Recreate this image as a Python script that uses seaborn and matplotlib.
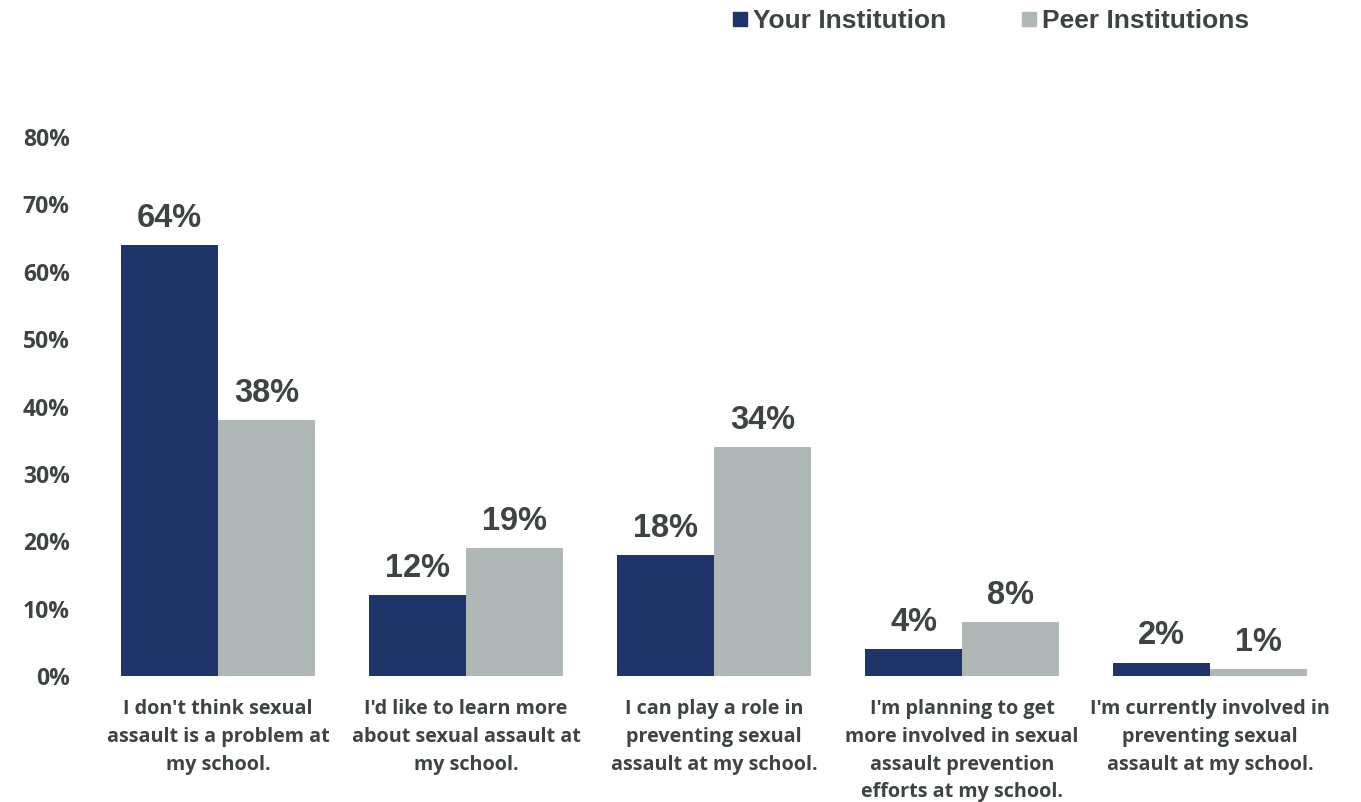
import matplotlib
matplotlib.use("Agg")
import matplotlib.pyplot as plt
import seaborn as sns
import pandas as pd
from matplotlib.lines import Line2D

categories = [
    "I don't think sexual\nassault is a problem at\nmy school.",
    "I'd like to learn more\nabout sexual assault at\nmy school.",
    "I can play a role in\npreventing sexual\nassault at my school.",
    "I'm planning to get\nmore involved in sexual\nassault prevention\nefforts at my school.",
    "I'm currently involved in\npreventing sexual\nassault at my school.",
]
series_names = ["Your Institution", "Peer Institutions"]
your_inst = [64, 12, 18, 4, 2]
peer_inst = [38, 19, 34, 8, 1]
y_ticks = [0, 10, 20, 30, 40, 50, 60, 70, 80]

colors = ["#1F3569", "#AFB8B7"]
text_color = "#3D4443"

df = pd.DataFrame({
    "category": categories * 2,
    "series": [series_names[0]] * len(categories) + [series_names[1]] * len(categories),
    "value": your_inst + peer_inst,
})

sns.set_theme(style="white")
plt.rcParams["font.family"] = ["DejaVu Sans"]

fig = plt.figure(figsize=(13.61, 8.02), dpi=100)
ax = fig.add_axes([94 / 1361, 126 / 802, (1334 - 94) / 1361, (676 - 137) / 802])

sns.barplot(data=df, x="category", y="value", hue="series", palette=colors,
            width=0.78, gap=0, saturation=1, ax=ax, legend=False, linewidth=0,
            errorbar=None)

for cont in ax.containers:
    labels = [f"{v:.0f}%" for v in cont.datavalues]
    ax.bar_label(cont, labels=labels, padding=8, fontsize=23.5, fontweight="bold",
                 color=text_color, family="Liberation Sans")

ax.set_xlim(-0.5, 4.5)
ax.set_ylim(0, 80)
ax.set_yticks(y_ticks)
ax.set_yticklabels([f"{t}%" for t in y_ticks], fontsize=16.5, fontweight="bold",
                   color=text_color, family="Open Sans")
ax.set_xticks(range(len(categories)))
ax.set_xticklabels(categories, fontsize=14.2, fontweight="bold", color=text_color,
                   family="Open Sans", linespacing=1.52, va="top")
ax.tick_params(axis="y", length=0, pad=17.5)
ax.tick_params(axis="x", length=0, pad=16.5)
ax.set_xlabel("")
ax.set_ylabel("")
for s in ax.spines.values():
    s.set_visible(False)
ax.grid(False)

handles = [Line2D([0], [0], marker="s", linestyle="none", markersize=10,
                  markerfacecolor=c, markeredgecolor=c) for c in colors]
leg = fig.legend(handles, series_names, loc="center", bbox_to_anchor=(988 / 1361, 1 - 21 / 802),
                 ncol=2, frameon=False, handletextpad=0.0, columnspacing=2.65,
                 handlelength=1.0, prop={"family": "Liberation Sans", "weight": "bold", "size": 19})
for t in leg.get_texts():
    t.set_color(text_color)

fig.savefig("out.png", dpi=100)
